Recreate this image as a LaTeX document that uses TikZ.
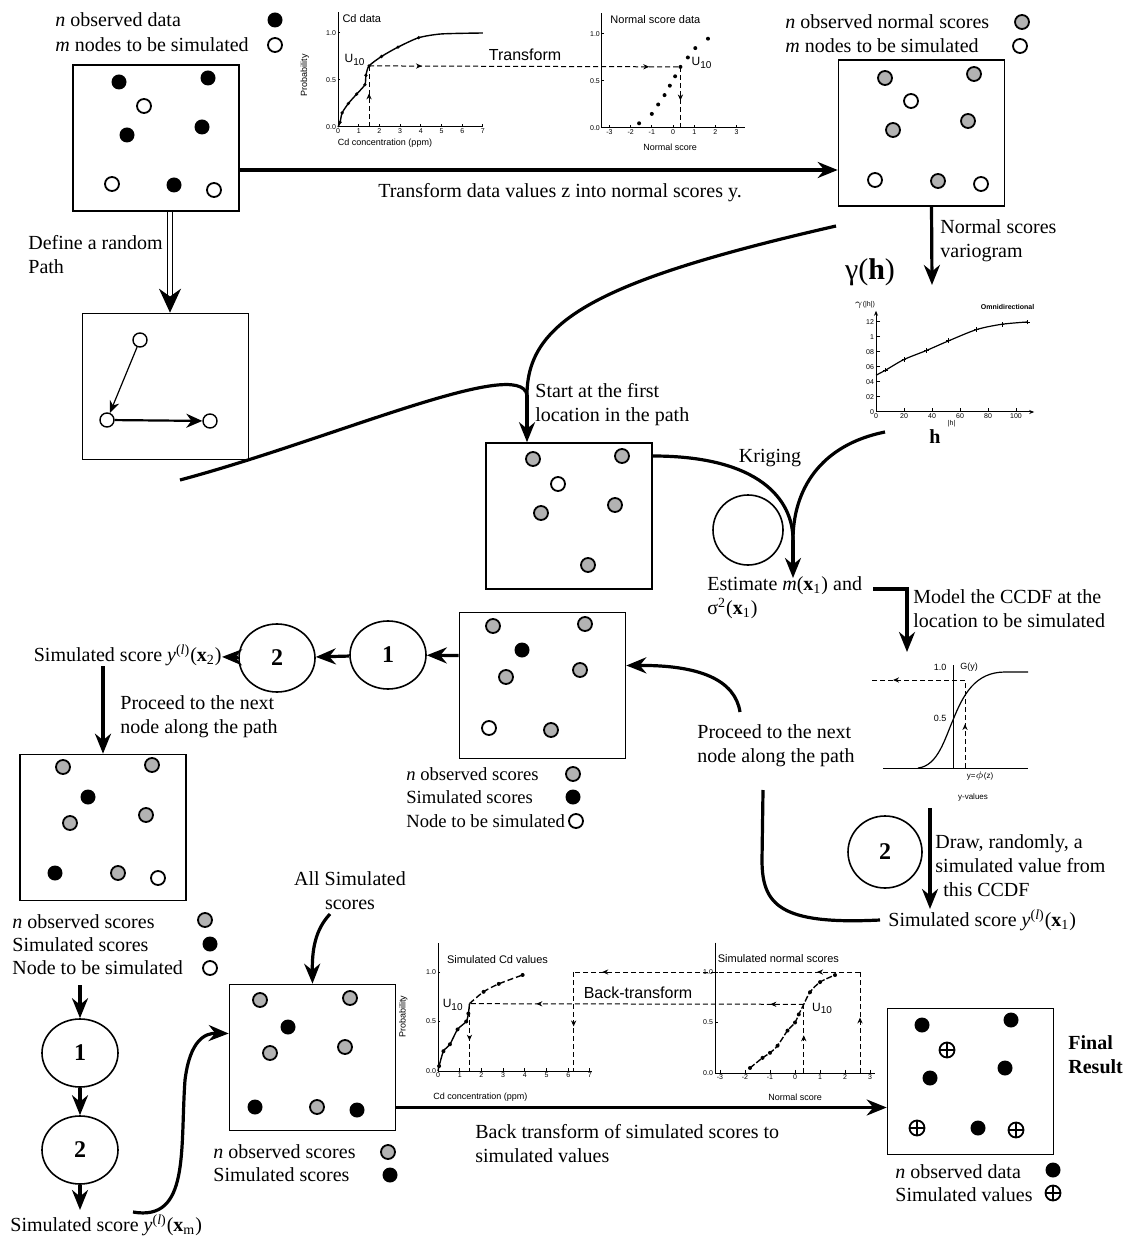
\documentclass[tikz,border=0pt]{standalone}
\usepackage{fontspec}
\setmainfont{Liberation Serif}
\setsansfont{Liberation Sans}
\usepackage{amsmath,amssymb}
\usetikzlibrary{shapes.geometric,positioning,calc,arrows.meta,decorations.markings}

% dots used inside the fields
\newcommand{\obsdot}[1]{\fill #1 circle[radius=7.5];}
\newcommand{\scoredot}[1]{\draw[line width=0.9pt,fill=gray!60] #1 circle[radius=7];}
\newcommand{\freedot}[1]{\draw[line width=0.9pt,fill=white] #1 circle[radius=7];}
\newcommand{\valdot}[1]{\draw[line width=0.9pt] #1 circle[radius=7.5] #1 ++(-7.5,0) -- ++(15,0) #1 ++(0,-7.5) -- ++(0,15);}
% simulated score y^(l)(x_i) in text font
\newcommand{\simsc}[1]{\textit{y}\textsuperscript{(\textit{l})}(\textbf{x}\textsubscript{#1})}

\tikzset{
  field/.style={draw, line width=0.8pt, minimum width=83pt, minimum height=73pt, inner sep=0pt},
  flow/.style={line width=1.6pt, -{Stealth[length=10pt,width=8pt]}},
  bendline/.style={line width=1.6pt},
  stage/.style={draw, ellipse, line width=0.8pt, minimum width=38pt, minimum height=34pt, font=\bfseries\large},
  note/.style={anchor=west, align=left, inner sep=0pt},
  axis/.style={line width=0.5pt},
  guide/.style={line width=0.5pt, dash pattern=on 2.5pt off 1.5pt},
  ticklab/.style={font=\fontsize{3.5}{4}\sffamily, inner sep=0.8pt},
  plotlab/.style={font=\fontsize{4.5}{5}\sffamily, inner sep=0pt},
  plottitle/.style={font=\fontsize{5.5}{6}\sffamily, inner sep=0pt, anchor=west},
  bigsans/.style={font=\fontsize{8}{9}\sffamily, inner sep=0pt},
  onemark/.style={postaction={decorate}, decoration={markings,
      mark=at position #1 with {\arrow{Stealth[length=3pt,width=2.6pt]}}}},
  twomarks/.style 2 args={postaction={decorate}, decoration={markings,
      mark=at position #1 with {\arrow{Stealth[length=3pt,width=2.6pt]}},
      mark=at position #2 with {\arrow{Stealth[length=3pt,width=2.6pt]}}}},
}

\begin{document}
\begin{tikzpicture}[x=0.5pt, y=-0.5pt]
\useasboundingbox (0,0) rectangle (1130,1240);

% ---------------- fields ----------------
\node[field] (data)   at (156,138)    {};
\node[field] (scores) at (921.5,133)  {};
\node[field] (path)   at (165.5,386.5) {};
\node[field] (first)  at (569,516)    {};
\node[field] (second) at (542.5,685.5) {};
\node[field] (third)  at (103,827.5)  {};
\node[field] (allsim) at (312.5,1057.5) {};
\node[field] (final)  at (970.5,1081.5) {};

% original data
\obsdot{(119,82)} \obsdot{(208,78)} \freedot{(144,106)}
\obsdot{(127,135)} \obsdot{(202,127)}
\freedot{(112,184)} \obsdot{(174,185)} \freedot{(214,190)}
\node[note] (lgA1) at (55,20) {\textit{n} observed data};
\node[note] (lgA2) at (55,45) {\textit{m} nodes to be simulated};
\obsdot{(275,20)} \freedot{(275,45)}

% normal scores
\scoredot{(885,78)} \scoredot{(974,74)} \freedot{(911,101)}
\scoredot{(893,130)} \scoredot{(968,121)}
\freedot{(875,180)} \scoredot{(938,181)} \freedot{(981,184)}
\node[note] (lgB1) at (785,22) {\textit{n} observed normal scores};
\node[note] (lgB2) at (785,46) {\textit{m} nodes to be simulated};
\scoredot{(1022,22)} \freedot{(1020,46)}

% random path
\node[draw, circle, line width=0.7pt, minimum size=7pt, inner sep=0pt] (p1) at (140,340) {};
\node[draw, circle, line width=0.7pt, minimum size=7pt, inner sep=0pt] (p2) at (107,420) {};
\node[draw, circle, line width=0.7pt, minimum size=7pt, inner sep=0pt] (p3) at (210,421) {};
\draw[line width=0.6pt, -{Stealth[length=6pt,width=5pt]}] (p1) -- (p2);
\draw[line width=1.1pt, -{Stealth[length=8pt,width=7pt]}] (p2) -- (p3);

% first location
\scoredot{(533,459)} \scoredot{(622,456)} \freedot{(558,484)}
\scoredot{(541,513)} \scoredot{(615,505)} \scoredot{(588,565)}

% second location
\scoredot{(493,626)} \scoredot{(585,624)} \obsdot{(522,650)}
\scoredot{(506,677)} \scoredot{(580,670)}
\freedot{(489,728)} \scoredot{(551,730)}
\begin{scope}[every node/.append style={font=\fontsize{9.3}{11}\selectfont}]
\node[note] (lgD1) at (406,774) {\textit{n} observed scores};
\node[note] (lgD2) at (406,797) {Simulated scores};
\node[note] (lgD3) at (406,821) {Node to be simulated};
\end{scope}
\scoredot{(573,774)} \obsdot{(573,797)} \freedot{(576,821)}

% third location
\scoredot{(63,767)} \scoredot{(152,765)} \obsdot{(88,797)}
\scoredot{(70,823)} \scoredot{(146,815)}
\obsdot{(55,873)} \scoredot{(118,873)} \freedot{(158,878)}
\node[note] (lgE1) at (12,922) {\textit{n} observed scores};
\node[note] (lgE2) at (12,945) {Simulated scores};
\node[note] (lgE3) at (12,968) {Node to be simulated};
\scoredot{(205,920)} \obsdot{(210,944)} \freedot{(210,968)}

% all simulated
\scoredot{(260,1000)} \scoredot{(350,998)} \obsdot{(288,1027)}
\scoredot{(270,1053)} \scoredot{(345,1047)}
\obsdot{(255,1107)} \scoredot{(317,1107)} \obsdot{(357,1110)}
\node[note] (lgF1) at (213,1152) {\textit{n} observed scores};
\node[note] (lgF2) at (213,1175) {Simulated scores};
\scoredot{(388,1152)} \obsdot{(390,1175)}

% final result
\obsdot{(922,1025)} \obsdot{(1011,1020)} \valdot{(947,1050)}
\obsdot{(930,1078)} \obsdot{(1005,1068)}
\valdot{(917,1128)} \obsdot{(978,1128)} \valdot{(1016,1130)}
\node[note, font=\bfseries] (fin) at (1068,1055) {Final\\Result};
\node[note] (lgG1) at (895,1172) {\textit{n} observed data};
\node[note] (lgG2) at (895,1195) {Simulated values};
\obsdot{(1053,1170)} \valdot{(1053,1193)}

% ---------------- transform plots ----------------
\begin{scope}[shift={(338,127)}, x=10.35pt, y=47pt]
  \draw[axis] (0,1.22) -- (0,0) -- (7,0);
  \foreach \t in {0,...,7} \draw[axis] (\t,0.03) -- (\t,0) node[ticklab,below] {\t};
  \foreach \p/\l in {0/0.0,0.5/0.5,1/1.0} \draw[axis] (0.1,\p) -- (0,\p) node[ticklab,left] {\l};
  \draw[line width=0.7pt] plot[smooth, tension=0.4] coordinates {(0,0) (0.1,0.05) (0.2,0.15) (0.5,0.25) (0.9,0.35) (1.3,0.45) (1.35,0.55) (1.5,0.65) (2.1,0.75) (2.9,0.85) (3.9,0.95) (5,0.99) (7,1.0)};
  \foreach \a/\b in {0.1/0.05,0.2/0.15,0.5/0.25,0.9/0.35,1.3/0.45,1.35/0.55,1.5/0.65,2.1/0.75,2.9/0.85,3.9/0.95}
    \fill (\a,\b) circle (0.9pt);
  \node[plotlab, rotate=90] (cdprob) at (-1.6,0.55) {Probability};
  \node[plottitle] (cdtitle) at (0.2,1.15) {Cd data};
  \node[plotlab] (cdaxis) at (2.27,-0.17) {Cd concentration (ppm)};
  \node[font=\fontsize{6}{6}\sffamily, inner sep=0pt] (cdu10) at (0.82,0.71) {U\textsubscript{10}};
  \coordinate (cdu) at (1.5,0.65);
  \coordinate (cdbase) at (1.5,0);
\end{scope}

\begin{scope}[shift={(673,128)}, x=10.6pt, y=47pt]
  \draw[axis] (-3.35,1.22) -- (-3.35,0) -- (3.4,0);
  \foreach \t in {-3,...,3} \draw[axis] (\t,0.03) -- (\t,0) node[ticklab,below] {\t};
  \foreach \p/\l in {0/0.0,0.5/0.5,1/1.0} \draw[axis] (-3.25,\p) -- (-3.35,\p) node[ticklab,left] {\l};
  \foreach \a/\b in {-1.6/0.05,-1/0.15,-0.7/0.25,-0.4/0.35,-0.15/0.45,0.1/0.55,0.35/0.65,0.7/0.75,1.05/0.85,1.65/0.95}
    \fill (\a,\b) circle (1pt);
  \node[plottitle] (nstitle) at (-2.97,1.15) {Normal score data};
  \node[plotlab] (nsaxis) at (-0.14,-0.21) {Normal score};
  \node[font=\fontsize{6}{6}\sffamily, inner sep=0pt] (nsu10) at (1.37,0.69) {U\textsubscript{10}};
  \coordinate (nsu) at (0.35,0.65);
  \coordinate (nsbase) at (0.35,0);
\end{scope}
\draw[guide, onemark=0.55] (cdbase) -- (cdu);
\draw[guide, twomarks={0.17}{0.9}] (cdu) -- (nsu);
\draw[guide, onemark=0.55] (nsu) -- (nsbase);
\node[bigsans] (trlab) at (525,55) {Transform};

% ---------------- back-transform plots ----------------
\begin{scope}[shift={(438,1071)}, x=10.85pt, y=49.5pt]
  \draw[axis] (0,1.29) -- (0,0) -- (7.1,0);
  \foreach \t in {0,...,7} \draw[axis] (\t,0.03) -- (\t,0) node[ticklab,below] {\t};
  \foreach \p/\l in {0/0.0,0.5/0.5,1/1.0} \draw[axis] (0.1,\p) -- (0,\p) node[ticklab,left] {\l};
  \draw[line width=0.7pt] plot[smooth, tension=0.4] coordinates {(0,0) (0.05,0.05) (0.25,0.2) (0.55,0.27) (0.9,0.42) (1.3,0.5) (1.4,0.58) (1.45,0.68)};
  \draw[line width=0.7pt, dash pattern=on 3pt off 1.5pt] plot[smooth] coordinates {(1.45,0.68) (2.1,0.8) (2.8,0.88) (3.9,0.97)};
  \foreach \a/\b in {0.05/0.05,0.25/0.2,0.55/0.27,0.9/0.42,1.3/0.5,1.4/0.58,2.1/0.8,2.8/0.88,3.9/0.97}
    \fill (\a,\b) circle (1pt);
  \node[plotlab, rotate=90] (bcprob) at (-1.6,0.55) {Probability};
  \node[plottitle] (bctitle) at (0.4,1.13) {Simulated Cd values};
  \node[plotlab] (bcaxis) at (1.95,-0.26) {Cd concentration (ppm)};
  \node[font=\fontsize{6}{6}\sffamily, inner sep=0pt] (bcu10) at (0.7,0.67) {U\textsubscript{10}};
  \coordinate (bcu) at (1.45,0.68);
  \coordinate (bcubase) at (1.45,0);
  \coordinate (bcv) at (6.25,1.0);
  \coordinate (bcvbase) at (6.25,0);
\end{scope}

\begin{scope}[shift={(795,1073)}, x=12.5pt, y=50.5pt]
  \draw[axis] (-3.2,1.29) -- (-3.2,0) -- (3.2,0);
  \foreach \t in {-3,...,3} \draw[axis] (\t,0.03) -- (\t,0) node[ticklab,below] {\t};
  \foreach \p/\l in {0/0.0,0.5/0.5,1/1.0} \draw[axis] (-3.1,\p) -- (-3.2,\p) node[ticklab,left] {\l};
  \draw[line width=0.7pt, dash pattern=on 3pt off 1pt] plot[smooth] coordinates {(-1.8,0.05) (-1.3,0.15) (-1,0.2) (-0.7,0.27) (-0.3,0.42) (0,0.5) (0.15,0.58) (0.35,0.68) (0.6,0.8) (1,0.9) (1.6,0.97)};
  \foreach \a/\b in {-1.8/0.05,-1.3/0.15,-1/0.2,-0.7/0.27,-0.3/0.42,0/0.5,0.15/0.58,0.6/0.8,1/0.9,1.6/0.97}
    \fill (\a,\b) circle (1pt);
  \node[plottitle] (bntitle) at (-3.1,1.13) {Simulated normal scores};
  \node[plotlab] (bnaxis) at (0,-0.24) {Normal score};
  \node[font=\fontsize{6}{6}\sffamily, inner sep=0pt] (bnu10) at (1.1,0.64) {U\textsubscript{10}};
  \coordinate (bnu) at (0.35,0.68);
  \coordinate (bnubase) at (0.35,0);
  \coordinate (bnv) at (2.6,1.0);
  \coordinate (bnvbase) at (2.6,0);
\end{scope}
\draw[guide, onemark=0.55] (bnubase) -- (bnu);
\draw[guide, onemark=0.55] (bnvbase) -- (bnv);
\draw[guide, twomarks={0.1}{0.8}] (bnu) -- (bcu);
\draw[guide, twomarks={0.15}{0.9}] (bnv) -- (bcv);
\draw[guide, onemark=0.55] (bcu) -- (bcubase);
\draw[guide, onemark=0.55] (bcv) -- (bcvbase);
\node[bigsans] (btlab) at (638,993) {Back-transform};

% ---------------- variogram ----------------
\begin{scope}[shift={(876,412)}, x=0.7pt, y=37.5pt]
  \draw[axis, -{Stealth[length=2.5pt,width=2pt]}] (0,0) -- (0,1.35);
  \draw[axis, -{Stealth[length=2.5pt,width=2pt]}] (0,0) -- (113,0);
  \foreach \t in {0,20,...,100} \draw[axis] (\t,0.05) -- (\t,0) node[ticklab,below] {\t};
  \foreach \p/\l in {0/0,0.2/02,0.4/04,0.6/06,0.8/08,1/1,1.2/12} \draw[axis] (3,\p) -- (0,\p) node[ticklab,left] {\l};
  \draw[line width=0.6pt] plot[smooth] coordinates {(0,0.49) (7,0.56) (20,0.7) (36,0.82) (52,0.95) (72,1.1) (90,1.17) (108,1.2)};
  \foreach \a/\b in {7/0.56,20/0.7,36/0.82,52/0.95,72/1.1,90/1.17,108/1.2}
    \draw[line width=0.4pt] (\a,\b) +(-1.2pt,0) -- +(1.2pt,0) +(0,-1.2pt) -- +(0,1.2pt);
  \node[ticklab, font=\fontsize{3.5}{4}\sffamily\bfseries] (vartitle) at (94,1.40) {Omnidirectional};
  \node[ticklab] (varaxis) at (54,-0.15) {|h|};
  \node[ticklab] (varyl) at (-8,1.43) {$\gamma$(|h|)};
\end{scope}
\node[inner sep=0pt, font=\fontsize{15}{15}\selectfont] (gam) at (870,272) {γ(\textbf{h})};
\node[inner sep=0pt, font=\bfseries] (hlab) at (935,437) {h};

% ---------------- CCDF ----------------
\draw[axis] (953,665) -- (953,768);
\draw[axis] (883,768) -- (1028,768);
\draw[line width=0.6pt] (918,768) .. controls (938,766) and (945,738) .. (953,720)
  .. controls (963,695) and (975,672) .. (1005,672) -- (1028,672);
\coordinate (gleft) at (869,680);
\coordinate (gpt) at (965,680);
\coordinate (gbase) at (965,768);
\draw[guide, onemark=0.5] (gbase) -- (gpt);
\draw[guide, onemark=0.75] (gpt) -- (gleft);
\node[ticklab, font=\fontsize{4.5}{5}\sffamily] (g10) at (940,667) {1.0};
\node[ticklab, font=\fontsize{4.5}{5}\sffamily] (gy) at (969,667) {G(y)};
\node[ticklab, font=\fontsize{4.5}{5}\sffamily] (g05) at (940,718) {0.5};
\node[ticklab, font=\fontsize{4}{5}\sffamily] (gphi) at (980,776) {y=$\phi$(z)};
\node[ticklab, font=\fontsize{4}{5}\sffamily] (gval) at (973,797) {y-values};

% ---------------- labels ----------------
\node (trdata) at (560,193) {Transform data values z into normal scores y.};
\node[note] (randlab) at (28,255) {Define a random\\Path};
\node[note] (nsvar) at (940,241) {Normal scores\\variogram};
\node[note] (startlab) at (535,405) {Start at the first\\location in the path};
\node (kriglab) at (770,458) {Kriging};
\node[note] (estim) at (707,598) {Estimate \textit{m}(\textbf{x}\textsubscript{1}) and\\σ\textsuperscript{2}(\textbf{x}\textsubscript{1})};
\node[note] (ccdflab) at (913,609) {Model the CCDF at the\\location to be simulated};
\node[note] (drawlab) at (935,866) {Draw, randomly, a\\simulated value from\\\hspace{4pt}this CCDF};
\node[note] (simx1) at (888,920) {Simulated score \simsc{1}};
\node[note] (proc1) at (697,746) {Proceed to the next\\node along the path};
\node[anchor=east, inner sep=0pt] (simx2) at (222,655) {Simulated score \simsc{2}};
\node[note] (proc2) at (120,717) {Proceed to the next\\node along the path};
\node[note] (simxm) at (10,1225) {Simulated score \simsc{m}};
\node[align=center, inner sep=0pt] (alllab) at (350,891) {All Simulated\\scores};
\node[note] (backlab) at (475,1144) {Back transform of simulated scores to\\simulated values};

% ---------------- circles ----------------
\node[draw, circle, line width=0.8pt, minimum size=35pt] (kcirc) at (748,530) {};
\node[stage] (one)  at (388,655) {1};
\node[stage] (two)  at (277,658) {2};
\node[stage, minimum width=37pt, minimum height=36pt] (drawtwo) at (885,852) {2};
\node[stage] (onem) at (80,1053) {1};
\node[stage] (twom) at (80,1150) {2};

% ---------------- connectors ----------------
\draw[flow] ([yshift=-16pt]data.east) -- ([yshift=-16pt]data.east -| scores.west);
\draw[double, double distance=1.6pt, line width=0.6pt, -{Stealth[length=12pt,width=11pt]}]
  ([xshift=7pt]data.south) -- ([xshift=7pt]data.south |- path.north);
\coordinate (vartop) at (932,285);
\draw[flow] ([xshift=5pt]scores.south) -- (vartop);

\coordinate (pathend) at (180,480);
\coordinate (bstart) at (836,226);
\coordinate (join) at (527,395);
\draw[bendline] (pathend) .. controls (330,440) and (520,355) .. (join);
\draw[bendline] (bstart) .. controls (600,280) and (527,320) .. (join);
\draw[flow] (join) -- (join |- first.north);

\coordinate (kjoin) at (793,540);
\coordinate (hstart) at (885,432);
\draw[bendline] ([yshift=30pt]first.east) .. controls (760,456) and (793,500) .. (kjoin);
\draw[bendline] (hstart) .. controls (820,445) and (793,490) .. (kjoin);
\draw[flow] (kjoin) -- (793,578);

\coordinate (estend) at (873,589);
\coordinate (ccdfin) at (907,652);
\draw[flow] (estend) -| (ccdfin);

\coordinate (ccdfout) at (930,808);
\draw[flow] (ccdfout) -- (ccdfout |- simx1.north);

\coordinate (loopup) at (763,790);
\coordinate (loopon) at (740,712);
\draw[bendline] ([xshift=-4pt]simx1.west) .. controls (780,925) and (762,905) .. (762,860) -- (loopup);
\draw[flow] (loopon) .. controls (735,680) and (700,665) .. ([yshift=10pt]second.east);

\draw[flow] ([yshift=15pt]second.west) -- (one);
\draw[flow] (one) -- (two);
\draw[flow] (two) -- (simx2);
\draw[flow] (simx2.south -| third.north) -- (third.north);

\coordinate (edown) at (80,985);
\draw[flow] (edown) -- (onem);
\draw[flow] (onem) -- (twom);
\draw[flow] (twom) -- (80,1210);

\coordinate (mstart) at (133,1212);
\draw[flow] (mstart) .. controls (190,1222) and (180,1150) .. (185,1080)
  .. controls (190,1040) and (205,1033) .. ([yshift=12pt]allsim.west);
\coordinate (allstart) at (330,914);
\draw[flow] (allstart) .. controls (315,930) and (312,950) .. (allsim.north);
\draw[flow] ([yshift=-25pt]allsim.east) -- ([yshift=-25pt]allsim.east -| final.west);
\end{tikzpicture}
\end{document}
